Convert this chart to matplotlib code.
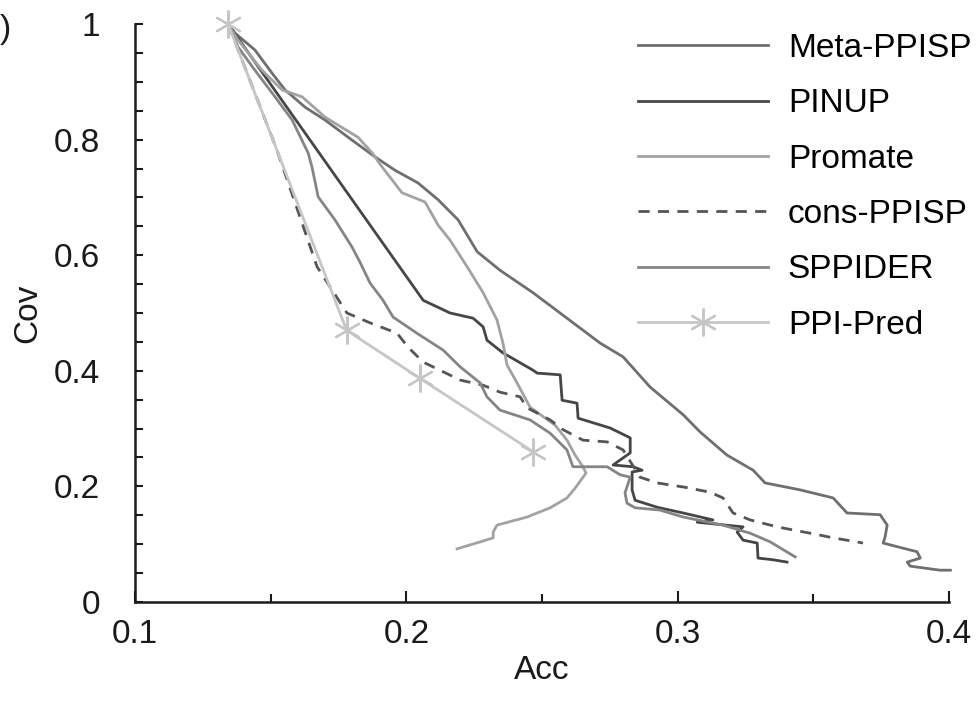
import matplotlib.pyplot as plt
from matplotlib.ticker import MultipleLocator

plt.rcParams['font.family'] = ['Liberation Sans', 'DejaVu Sans']

# Meta-PPISP
meta_acc = [0.1343, 0.1369, 0.1442, 0.1505, 0.1553, 0.1627, 0.1700, 0.1800, 0.1885, 0.1958,
            0.2043, 0.2117, 0.2191, 0.2261, 0.2345, 0.2467, 0.2592, 0.2714, 0.2799, 0.2898,
            0.3020, 0.3083, 0.3182, 0.3278, 0.3322, 0.3451, 0.3573, 0.3624, 0.3746, 0.3772,
            0.3764, 0.3757, 0.3831, 0.3882, 0.3894, 0.3846, 0.3857, 0.3967, 0.4005]
meta_cov = [1.000, 0.984, 0.955, 0.915, 0.886, 0.856, 0.834, 0.799, 0.770, 0.747,
            0.725, 0.696, 0.661, 0.606, 0.574, 0.535, 0.491, 0.448, 0.424, 0.372,
            0.324, 0.294, 0.254, 0.228, 0.206, 0.194, 0.180, 0.154, 0.151, 0.133,
            0.112, 0.102, 0.093, 0.087, 0.076, 0.069, 0.062, 0.055, 0.055]

# PINUP
pinup_acc = [0.1343, 0.2062, 0.2161, 0.2246, 0.2283, 0.2297, 0.2356, 0.2467, 0.2482, 0.2567,
             0.2574, 0.2629, 0.2633, 0.2751, 0.2825, 0.2825, 0.2762, 0.2836, 0.2869, 0.2832,
             0.2832, 0.2843, 0.2924, 0.3020, 0.3130, 0.3072, 0.3241, 0.3219, 0.3241, 0.3293,
             0.3296, 0.3352, 0.3403]
pinup_cov = [1.000, 0.522, 0.500, 0.491, 0.476, 0.453, 0.431, 0.401, 0.396, 0.393,
             0.349, 0.344, 0.318, 0.301, 0.284, 0.258, 0.237, 0.234, 0.228, 0.225,
             0.194, 0.176, 0.164, 0.154, 0.142, 0.138, 0.130, 0.121, 0.107, 0.102,
             0.076, 0.073, 0.069]

# Promate
promate_acc = [0.1343, 0.1380, 0.1468, 0.1542, 0.1616, 0.1700, 0.1822, 0.1874, 0.1910, 0.1984,
               0.2069, 0.2117, 0.2161, 0.2224, 0.2283, 0.2334, 0.2356, 0.2371, 0.2408, 0.2456,
               0.2548, 0.2592, 0.2622, 0.2651, 0.2662, 0.2622, 0.2592, 0.2530, 0.2445, 0.2334,
               0.2320, 0.2320, 0.2272, 0.2187]
promate_cov = [1.000, 0.972, 0.920, 0.886, 0.874, 0.839, 0.804, 0.777, 0.753, 0.708,
               0.692, 0.652, 0.626, 0.580, 0.535, 0.488, 0.448, 0.410, 0.379, 0.337,
               0.306, 0.280, 0.254, 0.234, 0.223, 0.197, 0.180, 0.163, 0.147, 0.133,
               0.121, 0.111, 0.104, 0.092]

# cons-PPISP
cons_acc = [0.1343, 0.1523, 0.1671, 0.1781, 0.1866, 0.1966, 0.2006, 0.2062, 0.2124, 0.2198,
            0.2283, 0.2345, 0.2419, 0.2445, 0.2530, 0.2578, 0.2651, 0.2740, 0.2799, 0.2861,
            0.2924, 0.3020, 0.3119, 0.3167, 0.3204, 0.3267, 0.3366, 0.3488, 0.3573, 0.3683]
cons_cov = [1.000, 0.782, 0.580, 0.500, 0.483, 0.465, 0.441, 0.415, 0.401, 0.384,
            0.375, 0.363, 0.355, 0.336, 0.315, 0.298, 0.280, 0.277, 0.263, 0.216,
            0.206, 0.199, 0.190, 0.180, 0.154, 0.142, 0.130, 0.119, 0.111, 0.102]

# SPPIDER
sppider_acc = [0.1343, 0.1380, 0.1442, 0.1516, 0.1579, 0.1638, 0.1652, 0.1675, 0.1737, 0.1800,
               0.1829, 0.1866, 0.1914, 0.1951, 0.2039, 0.2135, 0.2198, 0.2272, 0.2297, 0.2345,
               0.2456, 0.2530, 0.2592, 0.2614, 0.2740, 0.2788, 0.2825, 0.2806, 0.2813, 0.2843,
               0.2935, 0.3020, 0.3167, 0.3267, 0.3341, 0.3433]
sppider_cov = [1.000, 0.960, 0.920, 0.874, 0.834, 0.777, 0.753, 0.701, 0.661, 0.614,
               0.588, 0.552, 0.522, 0.493, 0.465, 0.436, 0.407, 0.379, 0.355, 0.332,
               0.315, 0.292, 0.263, 0.234, 0.234, 0.220, 0.216, 0.189, 0.171, 0.163,
               0.159, 0.147, 0.133, 0.119, 0.104, 0.078]

# PPI-Pred
ppipred_acc = [0.1343, 0.178, 0.205, 0.2467]
ppipred_cov = [1.0, 0.47, 0.387, 0.26]

fs = 24
ink = '#1a1a1a'

fig = plt.figure(figsize=(9.79, 7.04), dpi=100)
ax = fig.add_axes([0.1379, 0.1449, 0.8315, 0.821])

lw = 2.0
ax.plot(meta_acc, meta_cov, color='#6f6f6f', lw=lw, label='Meta-PPISP', clip_on=False)
ax.plot(pinup_acc, pinup_cov, color='#464646', lw=lw, label='PINUP')
ax.plot(promate_acc, promate_cov, color='#a2a2a2', lw=lw, label='Promate')
ax.plot(cons_acc, cons_cov, color='#555555', lw=lw, ls=(0, (4, 3)), label='cons-PPISP')
ax.plot(sppider_acc, sppider_cov, color='#858585', lw=lw, label='SPPIDER')
ax.plot(ppipred_acc, ppipred_cov, color='#c6c6c6', lw=lw, marker=(6, 2, 0),
        markersize=20, markeredgewidth=1.6, label='PPI-Pred', clip_on=False)

ax.set_xlim(0.1, 0.4)
ax.set_ylim(0, 1)
ax.xaxis.set_major_locator(MultipleLocator(0.1))
ax.xaxis.set_minor_locator(MultipleLocator(0.05))
ax.yaxis.set_major_locator(MultipleLocator(0.2))
ax.yaxis.set_minor_locator(MultipleLocator(0.05))
ax.xaxis.set_major_formatter(plt.FuncFormatter(lambda v, p: f'{v:g}'))
ax.yaxis.set_major_formatter(plt.FuncFormatter(lambda v, p: f'{v:g}'))

for s in ['top', 'right']:
    ax.spines[s].set_visible(False)
for s in ['left', 'bottom']:
    ax.spines[s].set_linewidth(1.8)
    ax.spines[s].set_color(ink)

ax.tick_params(which='both', direction='in', width=1.5, colors=ink,
               labelsize=fs, labelcolor=ink)
ax.tick_params(axis='x', which='major', length=8, pad=12)
ax.tick_params(axis='x', which='minor', length=6)
ax.tick_params(axis='y', which='both', length=6, pad=25)

ax.set_xlabel('Acc', fontsize=fs, labelpad=4, color=ink)
ax.set_ylabel('Cov', fontsize=fs, labelpad=8, color=ink)

fig.text(0.0, 0.958, ')', fontsize=fs, color=ink, va='center', ha='left')

ax.legend(loc='upper left', bbox_to_anchor=(0.638, 0.972), bbox_transform=fig.transFigure,
          frameon=False, fontsize=fs, handlelength=3.9, handletextpad=0.6,
          labelspacing=0.73, numpoints=1, borderaxespad=0)

fig.savefig('out.png', dpi=100)
